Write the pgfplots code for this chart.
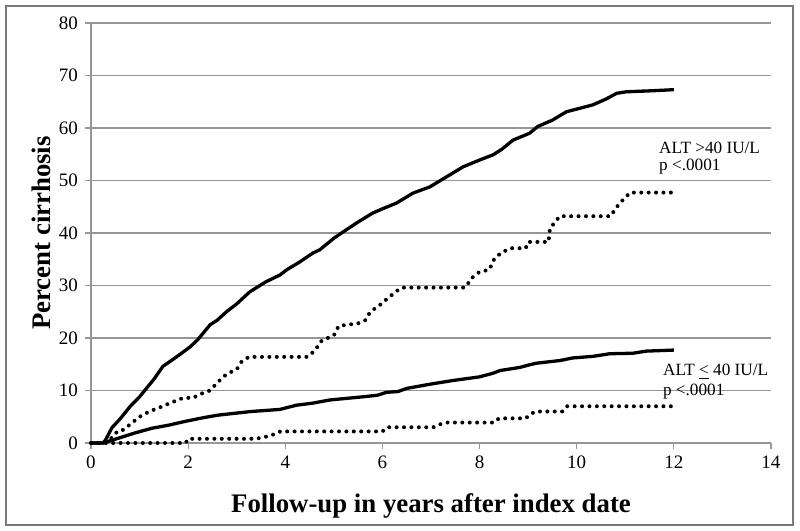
\documentclass[border=0pt]{standalone}
\usepackage{pgfplots}
\pgfplotsset{compat=1.18}
\usepackage{pgfplotstable}
\usepackage{fontspec}
\setmainfont{Liberation Serif}

\definecolor{gridgray}{RGB}{150,150,150}
\definecolor{framegray}{RGB}{120,120,120}

% ALT > 40, solid
\pgfplotstableread{
x y
0 0
0.25 0
0.3 0.6
0.43 2.9
0.6 4.6
0.8 6.9
1.0 8.8
1.15 10.5
1.3 12.2
1.48 14.6
1.7 16.0
1.85 17.0
2.04 18.3
2.2 19.7
2.45 22.5
2.6 23.4
2.79 25
3.0 26.5
3.27 28.8
3.6 30.7
3.89 32
4.03 33
4.3 34.5
4.57 36.2
4.71 36.8
5.0 39
5.19 40.2
5.5 42.1
5.8 43.8
6.0 44.6
6.29 45.7
6.63 47.6
6.98 48.8
7.32 50.7
7.66 52.6
8.0 53.9
8.28 54.9
8.45 55.9
8.69 57.7
9.03 59
9.2 60.3
9.5 61.5
9.79 63.1
10.33 64.4
10.6 65.5
10.82 66.6
11.02 66.9
11.57 67.1
12 67.3
}\highsolid

% ALT > 40, dotted
\pgfplotstableread{
x y
0 0
0.3 0
0.45 1.2
0.55 2.3
0.66 2.5
0.8 3.5
1.0 5
1.2 6
1.45 6.9
1.6 7.5
1.9 8.6
2.1 8.6
2.3 9.5
2.45 10
2.6 11.5
2.8 13.2
3.0 14
3.1 15.5
3.25 16.4
4.45 16.4
4.6 17.5
4.75 19.5
5.0 20.5
5.1 22.3
5.5 22.8
5.65 23.4
5.75 25
5.95 26.3
6.1 27.5
6.3 29
6.4 29.6
7.7 29.6
7.85 31.5
8.0 32.6
8.2 33
8.3 35
8.45 36.3
8.65 37.1
8.95 37.1
9.0 38.3
9.42 38.3
9.45 40.9
9.55 42
9.65 43.2
10.7 43.2
10.8 44.7
10.95 46.3
11.1 47.7
12.0 47.7
}\highdot

% ALT <= 40, solid
\pgfplotstableread{
x y
0 0
0.25 0
0.35 0.3
0.56 0.9
0.9 1.9
1.25 2.8
1.6 3.4
1.93 4.1
2.3 4.8
2.61 5.3
3.0 5.7
3.3 6.0
3.6 6.2
3.89 6.4
4.23 7.2
4.57 7.6
4.92 8.2
5.26 8.5
5.6 8.8
5.9 9.1
6.08 9.65
6.32 9.8
6.5 10.4
6.98 11.2
7.45 11.9
8.0 12.6
8.28 13.3
8.42 13.8
8.83 14.4
9.03 14.9
9.17 15.2
9.65 15.7
9.92 16.2
10.33 16.5
10.68 17.0
11.16 17.1
11.43 17.5
12 17.7
}\lowsolid

% ALT <= 40, dotted
\pgfplotstableread{
x y
0 0
1.95 0
2.0 0.8
3.4 0.8
3.6 1.2
3.75 1.6
3.9 2.2
6.0 2.2
6.1 3.0
7.05 3.0
7.2 3.6
7.3 3.9
8.3 3.9
8.4 4.7
8.95 4.7
9.05 5.5
9.15 6.0
9.7 6.0
9.8 7.0
12.0 7.0
}\lowdot

\begin{document}
\begin{tikzpicture}
\fill[white] (-45.5pt,-44pt) rectangle (354.5pt,221.5pt);
\draw[framegray, line width=1.4pt] (-42.5pt,-41pt) rectangle (351pt,218.5pt);
\begin{axis}[
    at={(0,0)}, anchor=south west,
    scale only axis,
    width=340pt, height=210pt,
    xmin=0, xmax=14,
    ymin=0, ymax=80,
    xtick={0,2,...,14},
    ytick={0,10,...,80},
    axis lines*=left,
    axis line style={gridgray, line width=0.6pt},
    tick align=outside,
    major tick length=3pt,
    tick style={gridgray, line width=0.6pt},
    ymajorgrids=true,
    grid style={gridgray, line width=0.6pt},
    tick label style={font=\fontsize{9.5}{11}\selectfont},
    /pgf/number format/assume math mode=true,
    xlabel={Follow-up in years after index date},
    ylabel={Percent cirrhosis},
    label style={font=\bfseries\fontsize{13.4}{15}\selectfont},
    xlabel style={at={(axis description cs:0.5,0)}, anchor=base, yshift=-34.5pt},
    ylabel style={at={(axis description cs:0,0.5)}, anchor=center, yshift=25pt},
    clip=false,
]
\addplot[black, line width=1.65pt, line join=round] table[x=x,y=y] {\highsolid};
\addplot[black, line width=2pt, line cap=round, dash pattern=on 0pt off 3.7pt] table[x=x,y=y] {\highdot};
\addplot[black, line width=1.65pt, line join=round] table[x=x,y=y] {\lowsolid};
\addplot[black, line width=2pt, line cap=round, dash pattern=on 0pt off 3.7pt] table[x=x,y=y] {\lowdot};
\node[anchor=base west, inner sep=0pt, font=\fontsize{8.6}{10}\selectfont] at (axis cs:11.69,55.2) {ALT >40 IU/L};
\node[anchor=base west, inner sep=0pt, font=\fontsize{8.6}{10}\selectfont] at (axis cs:11.69,51.9) {p <.0001};
\node[anchor=base west, inner sep=0pt, font=\fontsize{8.6}{10}\selectfont] at (axis cs:11.77,12.8) {ALT \underline{<} 40 IU/L};
\node[anchor=base west, inner sep=0pt, font=\fontsize{8.6}{10}\selectfont] at (axis cs:11.77,9.1) {p <.0001};
\end{axis}
\end{tikzpicture}
\end{document}
